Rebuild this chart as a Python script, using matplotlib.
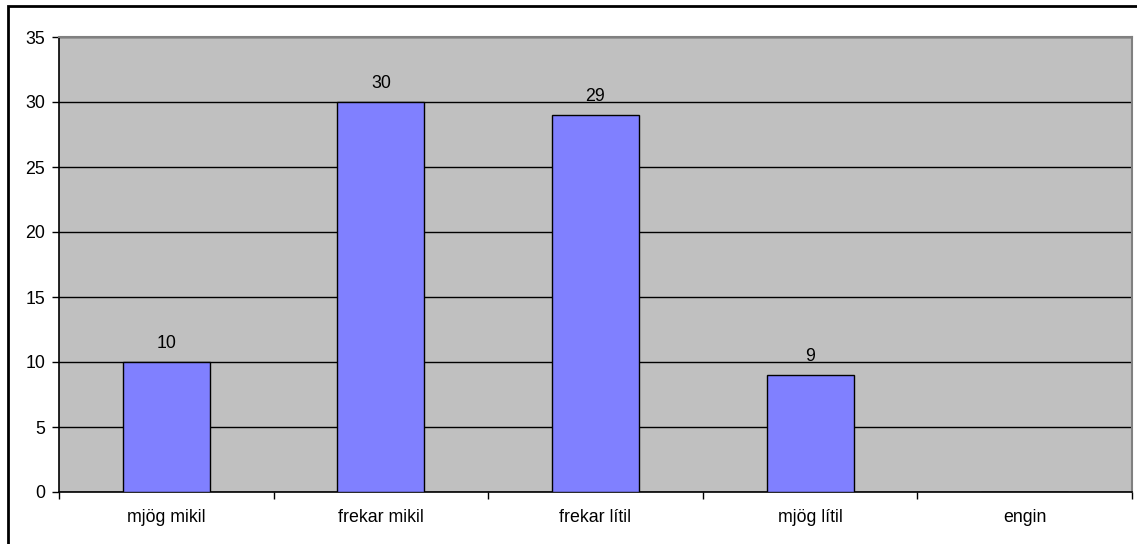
import matplotlib.pyplot as plt
from matplotlib.patches import Rectangle

plt.rcParams['font.family'] = ['Liberation Sans', 'DejaVu Sans']

# Gögn
flokkar = ["mjög mikil", "frekar mikil", "frekar lítil", "mjög lítil", "engin"]
fjoldi = [10, 30, 29, 9, 0]
y_ticks = [0, 5, 10, 15, 20, 25, 30, 35]

fig = plt.figure(figsize=(11.37, 5.44), dpi=100)
ax = fig.add_axes([59 / 1137, 1 - 492 / 544, (1132 - 59) / 1137, (492 - 37) / 544])

ax.set_facecolor("#C0C0C0")
x = list(range(len(flokkar)))
bars = ax.bar(x, fjoldi, width=0.405, color="#8080FF", edgecolor="black", linewidth=1, zorder=3)

for xi, v in zip(x, fjoldi):
    if v > 0:
        ax.annotate(str(v), (xi, v), xytext=(0, 7), textcoords="offset points",
                    ha="center", va="bottom", fontsize=12.8)

ax.set_xlim(-0.5, len(flokkar) - 0.5)
ax.set_ylim(0, 35)
ax.set_yticks(y_ticks)
ax.yaxis.grid(True, color="black", linewidth=1, zorder=1)
ax.set_axisbelow(True)

# x-merki á mörkum flokka, heiti í miðju
ax.set_xticks([i - 0.5 for i in range(len(flokkar) + 1)])
ax.set_xticklabels([])
ax.set_xticks(x, minor=True)
ax.set_xticklabels(flokkar, minor=True, fontsize=12.8)
ax.tick_params(axis="x", which="minor", length=0, pad=12)
ax.tick_params(axis="x", which="major", length=5, width=1, direction="out")
ax.tick_params(axis="y", length=5, width=1, direction="out", labelsize=12.8, pad=5)

for s in ["top", "right"]:
    ax.spines[s].set_color("#808080")
    ax.spines[s].set_linewidth(1.5)
for s in ["left", "bottom"]:
    ax.spines[s].set_color("black")
    ax.spines[s].set_linewidth(1.2)

# rammi utan um myndina
fig.patches.append(Rectangle((8 / 1137, -0.1), 1.2, 1 - 6 / 544 + 0.1,
                             transform=fig.transFigure, fill=False,
                             edgecolor="black", linewidth=2))

fig.savefig("out.png", dpi=100)
